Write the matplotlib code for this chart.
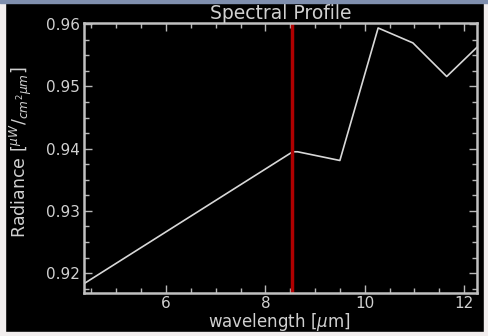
import matplotlib
matplotlib.use("Agg")
import matplotlib.pyplot as plt
from matplotlib.ticker import MultipleLocator

wavelength = [4.35, 8.55, 8.65, 9.5, 10.27, 10.97, 11.65, 12.26]
radiance = [0.9183, 0.9395, 0.9395, 0.9381, 0.9594, 0.9570, 0.9516, 0.9563]
marker_x = 8.54
x_ticks = [6, 8, 10, 12]
y_ticks = [0.92, 0.93, 0.94, 0.95, 0.96]

fig = plt.figure(figsize=(4.88, 3.36), dpi=100)
fig.patch.set_facecolor("black")
W, H = 488, 336
ax = fig.add_axes([84 / W, 1 - 293 / H, (477 - 84) / W, (293 - 23) / H])
ax.set_facecolor("black")

ax.plot(wavelength, radiance, color="#d8d8d8", lw=1.2)
ax.axvline(marker_x, color="#b00000", lw=2.5)

ax.set_xlim(4.35, 12.26)
ax.set_ylim(0.9168, 0.9602)
ax.set_xticks(x_ticks)
ax.set_yticks(y_ticks)
ax.set_yticklabels([f"{v:.2f}" for v in y_ticks])
ax.xaxis.set_minor_locator(MultipleLocator(0.5))
ax.yaxis.set_minor_locator(MultipleLocator(0.0025))
ax.tick_params(which="both", direction="in", top=True, right=True, colors="#b8b8b8",
               labelcolor="#d0d0d0", labelsize=11, width=1.0, pad=3)
ax.tick_params(axis="x", pad=2)
ax.tick_params(which="major", length=6)
ax.tick_params(which="minor", length=3.5)
for s in ax.spines.values():
    s.set_color("#c0c0c0")
    s.set_linewidth(1.8)

fig.text(279 / W, 1 - 322 / H, "wavelength [$\\mu$m]", color="#d0d0d0", fontsize=12,
         ha="center", va="center")
fig.text(21 / W, 1 - 152 / H, "Radiance [$^{\\mu W}/_{cm^2 \\mu m}$]", color="#d0d0d0",
         fontsize=12.5, ha="center", va="center", rotation=90)
ax.set_title("Spectral Profile", color="#d0d0d0", fontsize=13.5, pad=1)

# frame strips
fig.add_artist(plt.Rectangle((0, 1 - 3 / H), 1, 3 / H, transform=fig.transFigure, color="#7f8fae", zorder=10))
fig.add_artist(plt.Rectangle((0, 0), 5 / W, 1, transform=fig.transFigure, color="#f2eeee", zorder=9))
fig.add_artist(plt.Rectangle((0, 0), 1, 4 / H, transform=fig.transFigure, color="#f2eeee", zorder=9))
fig.add_artist(plt.Rectangle((1 - 4 / W, 0), 4 / W, 1, transform=fig.transFigure, color="#f2eeee", zorder=9))

fig.savefig("out.png", dpi=100, facecolor=fig.get_facecolor())
